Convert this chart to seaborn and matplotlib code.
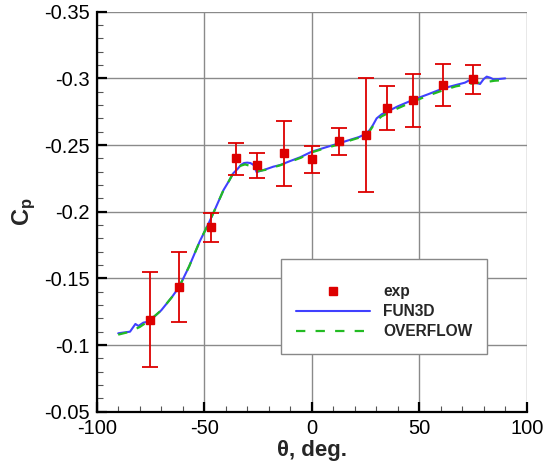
import numpy as np
import pandas as pd
import matplotlib
matplotlib.use("Agg")
import matplotlib.pyplot as plt
from matplotlib.lines import Line2D
import seaborn as sns

# ---------------- data ----------------
fun3d_theta = [-90, -87, -84.5, -82, -80.6, -78.3, -76, -74.4, -70, -65, -61.6, -57, -52, -48,
               -45.8, -43, -41, -38.5, -36.5, -34.5, -33, -31.5, -30, -28.5, -27, -25.6, -24,
               -21, -17.8, -14.7, -10, -5.4, 0, 6, 12.7, 18, 22, 24, 25.5, 27, 28.5, 30.2,
               32.5, 35, 40, 47, 54, 61.2, 67, 71.3, 73.6, 76, 78.3, 80, 81.4, 83, 84.5, 87, 90]
fun3d_cp = [-0.1088, -0.1095, -0.1100, -0.1158, -0.1143, -0.1168, -0.1175, -0.1195, -0.1260,
            -0.1360, -0.1437, -0.1590, -0.1780, -0.1910, -0.1988, -0.2090, -0.2163, -0.2230,
            -0.2288, -0.2320, -0.2350, -0.2365, -0.2368, -0.2365, -0.2350, -0.2296, -0.2305,
            -0.2320, -0.2338, -0.2350, -0.2380, -0.2408, -0.2450, -0.2480, -0.2513, -0.2540,
            -0.2560, -0.2575, -0.2590, -0.2613, -0.2650, -0.2700, -0.2730, -0.2750, -0.2790,
            -0.2838, -0.2880, -0.2925, -0.2950, -0.2968, -0.2988, -0.2968, -0.2958, -0.2995,
            -0.3013, -0.3005, -0.2993, -0.2995, -0.3000]

overflow_theta = [-90, -85, -80, -75, -70, -65, -61.6, -57, -52, -48, -45.8, -43, -41, -38.5,
                  -36.5, -34.5, -33, -31, -29, -27, -25, -21, -17.8, -14.7, -10, -5, 0, 6,
                  12.7, 18, 22, 24, 26, 28, 30, 32.5, 35, 40, 47, 54, 61, 67, 72, 76, 80, 85, 90]
overflow_cp = [-0.1078, -0.1098, -0.1135, -0.1190, -0.1260, -0.1360, -0.1437, -0.1590, -0.1780,
               -0.1910, -0.1988, -0.2090, -0.2163, -0.2230, -0.2288, -0.2320, -0.2345, -0.2355,
               -0.2345, -0.2320, -0.2305, -0.2315, -0.2333, -0.2348, -0.2375, -0.2405, -0.2445,
               -0.2475, -0.2505, -0.2535, -0.2555, -0.2565, -0.2580, -0.2630, -0.2680, -0.2715,
               -0.2735, -0.2775, -0.2825, -0.2870, -0.2910, -0.2940, -0.2955, -0.2965, -0.2970,
               -0.2982, -0.2988]

exp_theta = [-75.2, -61.6, -47.0, -35.3, -25.4, -12.9, 0.0, 12.7, 25.3, 35.2, 47.0, 61.2, 74.9]
exp_cp = [-0.1188, -0.1437, -0.1883, -0.2400, -0.2350, -0.2438, -0.2393, -0.2530, -0.2575,
          -0.2775, -0.2838, -0.2950, -0.2995]
exp_cp_hi = [-0.1547, -0.1698, -0.1993, -0.2518, -0.2443, -0.2680, -0.2493, -0.2628, -0.3000,
             -0.2943, -0.3033, -0.3108, -0.3103]
exp_cp_lo = [-0.0837, -0.1175, -0.1770, -0.2278, -0.2253, -0.2193, -0.2288, -0.2428, -0.2146,
             -0.2610, -0.2635, -0.2790, -0.2883]

x_ticks = [-100, -50, 0, 50, 100]
y_ticks = [-0.35, -0.3, -0.25, -0.2, -0.15, -0.1, -0.05]
y_tick_labels = ["-0.35", "-0.3", "-0.25", "-0.2", "-0.15", "-0.1", "-0.05"]

# ---------------- style ----------------
sns.set_theme(style="ticks")
plt.rcParams['font.family'] = ['Liberation Sans', 'DejaVu Sans']
plt.rcParams['mathtext.fontset'] = 'custom'
plt.rcParams['mathtext.rm'] = 'Liberation Sans'
plt.rcParams['mathtext.bf'] = 'Liberation Sans:bold'

RED = "#dd0000"
BLUE = "#4040ff"
GREEN = "#22bb22"

fig = plt.figure(figsize=(5.53, 4.69), dpi=100)
ax = fig.add_axes([96.7 / 553, 1 - 411.7 / 469, 430 / 553, 400 / 469])

fun_df = pd.DataFrame({"theta": fun3d_theta, "cp": fun3d_cp})
ovf_df = pd.DataFrame({"theta": overflow_theta, "cp": overflow_cp})

sns.lineplot(data=fun_df, x="theta", y="cp", ax=ax, color=BLUE, lw=1.5,
             sort=False, estimator=None, zorder=3)
sns.lineplot(data=ovf_df, x="theta", y="cp", ax=ax, color=GREEN, lw=1.6,
             sort=False, estimator=None, dashes=False, zorder=4)
ax.lines[-1].set_dashes((4.2, 4.6))

exp_cp_a = np.array(exp_cp)
yerr = np.vstack([exp_cp_a - np.array(exp_cp_hi), np.array(exp_cp_lo) - exp_cp_a])
ax.errorbar(exp_theta, exp_cp, yerr=yerr, fmt="s", color=RED, ms=5.2, mec=RED,
            ecolor=RED, elinewidth=1.3, capsize=5.5, capthick=1.3, zorder=5)

ax.set_xlim(-100, 100)
ax.set_ylim(-0.05, -0.35)
ax.set_xticks(x_ticks)
ax.set_xticklabels([str(v) for v in x_ticks])
ax.set_yticks(y_ticks)
ax.set_yticklabels(y_tick_labels)
ax.set_xticks(np.arange(-100, 101, 10), minor=True)
ax.set_yticks(np.arange(-0.35, -0.049, 0.01), minor=True)

ax.grid(True, which="major", color="#8a8a8a", lw=1.0)
ax.set_axisbelow(True)
for s in ["top", "right"]:
    ax.spines[s].set_visible(False)
for s in ["left", "bottom"]:
    ax.spines[s].set_linewidth(1.6)
    ax.spines[s].set_color("black")

ax.tick_params(which="major", direction="in", length=7.5, width=1.6, labelsize=14.5,
               colors="black")
ax.tick_params(axis="x", which="major", pad=5)
ax.tick_params(axis="y", which="major", pad=5)
ax.tick_params(which="minor", direction="in", length=4.5, width=0.8, colors="#555555")

ax.set_xlabel("θ, deg.", fontsize=16, fontweight="bold", labelpad=2)
ax.set_ylabel(r"$\mathbf{C_p}$", fontsize=17, fontweight="bold", labelpad=4)

handles = [
    Line2D([], [], ls="none", marker="s", color=RED, ms=5.2),
    Line2D([], [], color=BLUE, lw=1.5),
    Line2D([], [], color=GREEN, lw=1.6, dashes=(4.2, 4.6)),
]
leg = ax.legend(handles, ["exp", "FUN3D", "OVERFLOW"], loc="center",
                bbox_to_anchor=(0.6685, 0.2625), frameon=True, fancybox=False,
                prop={"weight": "bold", "size": 11.2}, handlelength=4.8,
                handletextpad=0.82, labelspacing=0.32, borderpad=0.95,
                numpoints=1, borderaxespad=0, title=" ", title_fontsize=4)
leg.get_frame().set_edgecolor("#888888")
leg.get_frame().set_linewidth(1.0)
leg.get_frame().set_facecolor("white")
leg.get_frame().set_alpha(1)

fig.savefig("out.png", dpi=100)
